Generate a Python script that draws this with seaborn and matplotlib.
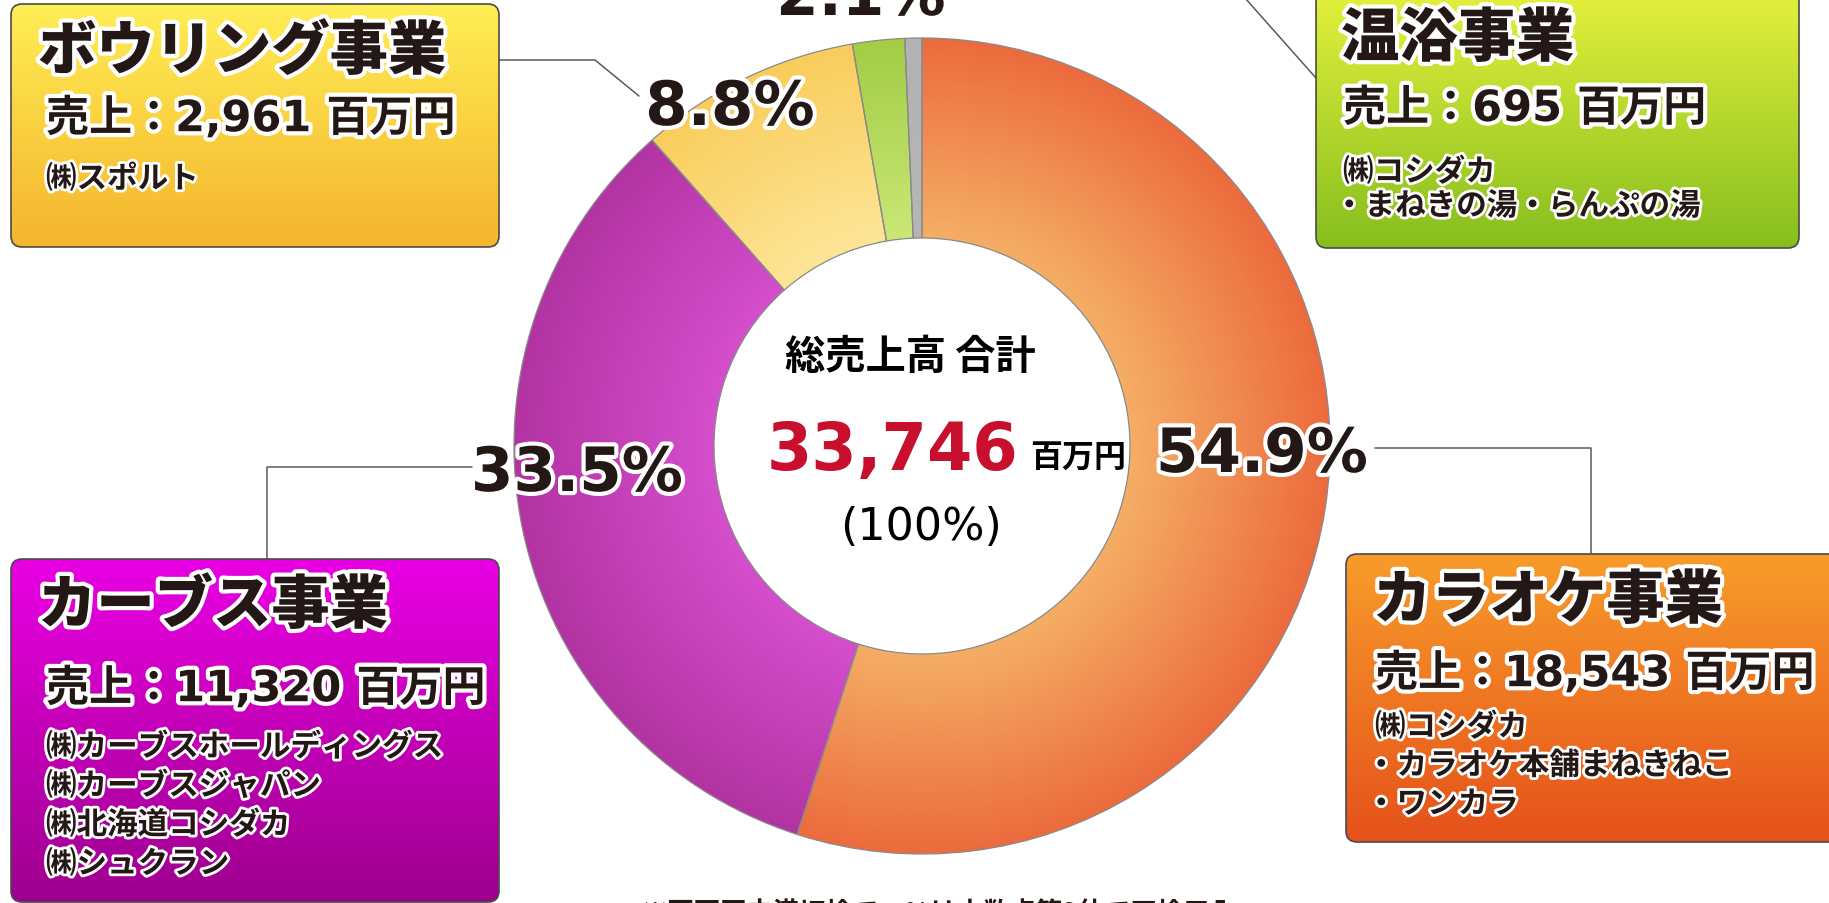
import numpy as np
import matplotlib
matplotlib.use("Agg")
import matplotlib.pyplot as plt
import matplotlib.patheffects as pe
from matplotlib.patches import FancyBboxPatch
import seaborn as sns

# data
segments = ["カラオケ事業", "カーブス事業", "ボウリング事業", "温浴事業", "その他"]
sales = [18543, 11320, 2961, 695, 227]  # 百万円
companies = [
    ["㈱コシダカ", "・カラオケ本舗まねきねこ", "・ワンカラ"],
    ["㈱カーブスホールディングス", "㈱カーブスジャパン", "㈱北海道コシダカ", "㈱シュクラン"],
    ["㈱スポルト"],
    ["㈱コシダカ", "・まねきの湯・らんぷの湯"],
]
total = sum(sales)
note = "※百万円未満切捨て、%は小数点第2位で四捨五入"

# colours: (light, dark) for ring, (top, bottom) for boxes
ring_colors = [("#F5AE66", "#EC6B3D"), ("#D54ECD", "#B233A2"), ("#FDE597", "#F9CD5C"),
               ("#CBE777", "#A2CD44"), ("#B6B6B6", "#B2B2B2")]
box_colors = [("#F89C2B", "#E5511A"), ("#E900E3", "#9E008E"), ("#FFEE55", "#F5B42D"),
              ("#E9F33E", "#86BE1E")]

W, H = 1829, 904
def Y(py):
    return H - py

JP = ["Noto Sans CJK JP", "DejaVu Sans"]
NUM = ["DejaVu Sans", "Noto Sans CJK JP"]
INK = "#231815"
halo = [pe.withStroke(linewidth=6, foreground="white")]

sns.set_theme(style="white")
fig = plt.figure(figsize=(W / 100, H / 100), dpi=100)
ax = fig.add_axes([0, 0, 1, 1])

# donut
cx, cy, R, r_in = 922, Y(447), 408, 208
wedges, _ = ax.pie(sales, center=(cx, cy), radius=R, startangle=90, counterclock=False,
                   wedgeprops=dict(width=R - r_in, edgecolor="#8a8a8a", linewidth=0.9))
gx = np.linspace(cx - R, cx + R, 600)
gy = np.linspace(cy - R, cy + R, 600)
XX, YY = np.meshgrid(gx, gy)
dist = np.clip((np.hypot(XX - cx, YY - cy) - r_in) / (R - r_in), 0, 1)
for w, (c_light, c_dark) in zip(wedges, ring_colors):
    cmap = sns.blend_palette([c_light, c_dark], n_colors=256, as_cmap=True)
    im = ax.imshow(dist, cmap=cmap, vmin=0, vmax=1, origin="lower",
                   extent=[cx - R, cx + R, cy - R, cy + R], zorder=1.5)
    im.set_clip_path(w)
    w.set_facecolor("none")
    w.set_zorder(2)

# percent labels (x centre, baseline)
pct_pos = [(1262, 473), (577, 492), (730, 126), (861, 16)]
for v, (px, py) in zip(sales, pct_pos):
    ax.text(px, Y(py), f"{v / total * 100:.1f}%", ha="center", va="baseline",
            family=NUM, weight="bold", fontsize=44, color=INK, path_effects=halo, zorder=5)

# connectors
connectors = [
    [(1375, 449), (1591, 449), (1591, 555)],
    [(472, 468), (267, 468), (267, 560)],
    [(499, 61), (595, 61), (639, 97)],
    [(1237, -10), (1316, 79)],
]
for pts in connectors:
    xs, ys = zip(*pts)
    ax.plot(xs, [Y(p) for p in ys], color="#5a5a5a", lw=1.1, zorder=1)

# boxes: (x0, y0, x1, y1), title pos, sales pos, first company line y, line step
boxes = [
    ((1346, 555, 1845, 843), (1373, 602), (1375, 675), 728, 38.5),
    ((11, 560, 499, 903), (38, 607), (46, 690), 748, 39),
    ((11, 5, 499, 248), (38, 53), (46, 120), 180, 34),
    ((1316, -20, 1799, 249), (1341, 40), (1343, 110), 173, 34),
]
grad = np.linspace(0, 1, 256).reshape(-1, 1)
for i, ((x0, y0, x1, y1), tpos, spos, ly, step) in enumerate(boxes):
    patch = FancyBboxPatch((x0, Y(y1)), x1 - x0, y1 - y0,
                           boxstyle="round,pad=0,rounding_size=11",
                           facecolor="none", edgecolor="#4a4a4a", lw=1.2, zorder=3)
    ax.add_patch(patch)
    cmap = sns.blend_palette(list(box_colors[i]), n_colors=256, as_cmap=True)
    im = ax.imshow(grad, cmap=cmap, origin="upper", aspect="auto",
                   extent=[x0, x1, Y(y1), Y(y0)], zorder=2.5)
    im.set_clip_path(patch)
    ax.text(tpos[0], Y(tpos[1]), segments[i], ha="left", va="center", family=JP,
            weight="black", fontsize=42, color=INK, path_effects=halo, zorder=4)
    ax.text(spos[0], Y(spos[1]), f"売上：{sales[i]:,} 百万円", ha="left", va="center",
            family=NUM, weight="bold", fontsize=31, color=INK, path_effects=halo, zorder=4)
    for k, line in enumerate(companies[i]):
        shift = -9 if line.startswith("・") else 0
        ax.text(spos[0] + shift, Y(ly + k * step), line, ha="left", va="center", family=JP,
                weight="bold", fontsize=22, color=INK,
                path_effects=[pe.withStroke(linewidth=4, foreground="white")], zorder=4)

# centre total
ax.text(910, Y(357), "総売上高 合計", ha="center", va="center", family=JP,
        weight="bold", fontsize=29, color="black", zorder=4)
ax.text(767, Y(470), f"{total:,}", ha="left", va="baseline", family=NUM,
        weight="bold", fontsize=47, color="#C8102E", zorder=4)
ax.text(1030, Y(467), "百万円", ha="left", va="baseline", family=JP,
        weight="bold", fontsize=23, color="black", zorder=4)
ax.text(921, Y(527), "(100%)", ha="center", va="center", family=NUM,
        fontsize=32, color="black", zorder=4)

# footnote, mostly below the visible area (as in the original)
ax.text(939, Y(900), note, ha="center", va="top", family=JP, weight="bold",
        fontsize=19, color=INK, zorder=4)

ax.set_xlim(0, W)
ax.set_ylim(0, H)
ax.set_aspect("equal")
ax.axis("off")
fig.savefig("out.png", dpi=100, facecolor="white")
